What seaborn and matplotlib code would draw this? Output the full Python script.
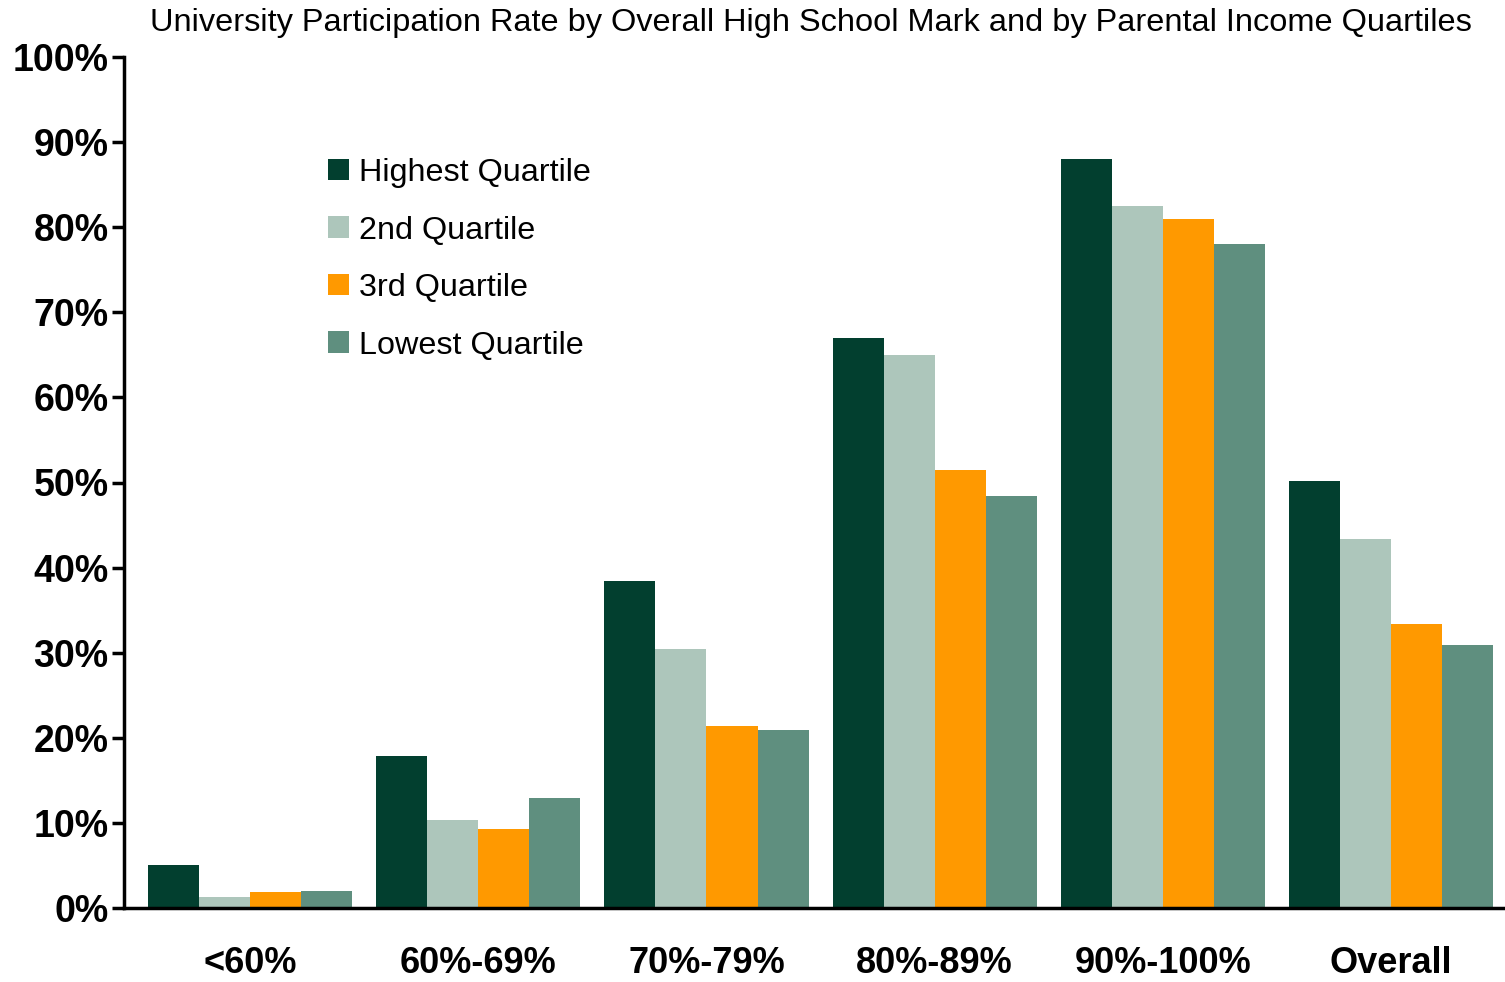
import pandas as pd
import numpy as np
import seaborn as sns
import matplotlib.pyplot as plt
from matplotlib.ticker import PercentFormatter

# Valores (%)
marks = ['<60%', '60%-69%', '70%-79%', '80%-89%', '90%-100%', 'Overall']
quartiles = ['Highest Quartile', '2nd Quartile', '3rd Quartile', 'Lowest Quartile']
highest = [5.0, 17.9, 38.4, 67.0, 88.0, 50.2]
second = [1.3, 10.3, 30.4, 65.0, 82.5, 43.4]
third = [1.9, 9.3, 21.4, 51.5, 81.0, 33.4]
lowest = [2.0, 12.9, 20.9, 48.4, 78.0, 30.9]
colors = ['#023F2F', '#ADC6BB', '#FF9900', '#5F8F7F']

df = pd.DataFrame({'Mark': marks * 4,
                   'Quartile': np.repeat(quartiles, len(marks)),
                   'Rate': highest + second + third + lowest})

sns.set_style('white')
plt.rcParams['font.family'] = ['Liberation Sans', 'DejaVu Sans']
plt.rcParams['text.color'] = 'black'
plt.rcParams['xtick.color'] = 'black'
plt.rcParams['ytick.color'] = 'black'

fig = plt.figure(figsize=(15.05, 9.82), dpi=100)
ax = fig.add_axes([124 / 1505, 1 - 908 / 982, 1 - 124 / 1505, (908 - 57) / 982])
sns.barplot(data=df, x='Mark', y='Rate', hue='Quartile', order=marks, hue_order=quartiles,
            palette=colors, saturation=1, width=0.895, gap=0, linewidth=0, ax=ax)

ax.set_ylim(0, 100)
ax.set_xlim(-0.553, 5.5)
ax.set_yticks(range(0, 101, 10))
ax.yaxis.set_major_formatter(PercentFormatter(decimals=0))
ax.set_xlabel('')
ax.set_ylabel('')
for side in ['top', 'right']:
    ax.spines[side].set_visible(False)
for side in ['left', 'bottom']:
    ax.spines[side].set_linewidth(2.5)
    ax.spines[side].set_color('black')
ax.tick_params(axis='y', left=True, length=9, width=2.5, labelsize=27, pad=2)
ax.tick_params(axis='x', bottom=False, labelsize=26, pad=24)
for lbl in ax.get_xticklabels() + ax.get_yticklabels():
    lbl.set_fontweight('bold')

fig.text(811 / 1505, 1 - 23 / 982, 'University Participation Rate by Overall High School Mark and by Parental Income Quartiles',
         ha='center', va='center', fontsize=23.4)

ax.legend(loc='upper left', bbox_to_anchor=(328 / 1505, 1 - 158 / 982), bbox_transform=fig.transFigure,
          frameon=False, fontsize=23.3, handlelength=0.65, handleheight=0.65, handletextpad=0.3,
          labelspacing=0.85, borderaxespad=0, borderpad=0)

fig.savefig('out.png', dpi=100)
